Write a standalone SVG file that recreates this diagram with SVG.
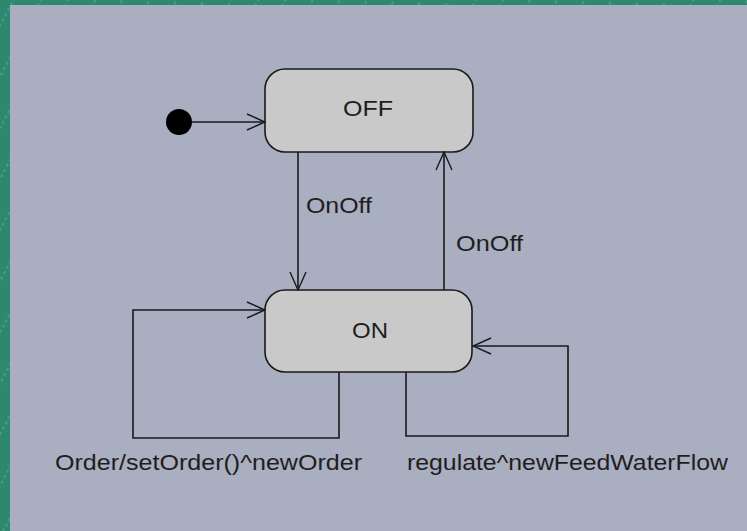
<svg xmlns="http://www.w3.org/2000/svg" width="747" height="531" viewBox="0 0 747 531">
  <defs>
    <pattern id="stripes" width="24" height="24" patternUnits="userSpaceOnUse" patternTransform="rotate(-62)">
      <rect width="24" height="24" fill="#2e8870"/>
      <line x1="0" y1="12" x2="24" y2="12" stroke="#5fae9a" stroke-width="1" stroke-dasharray="3,3"/>
    </pattern>
    <marker id="open" viewBox="0 0 20 20" refX="19" refY="10" markerWidth="20" markerHeight="20" markerUnits="userSpaceOnUse" orient="auto">
      <path d="M1,2 L19,10 L1,18" fill="none" stroke="#1a1a1a" stroke-width="1.4"/>
    </marker>
    <style>
      .state { fill: #c9c9c9; stroke: #1a1a1a; stroke-width: 1.6; }
      .conn { fill: none; stroke: #1a1a1a; stroke-width: 1.6; marker-end: url(#open); }
      .label { font-family: "Liberation Sans", Arial, sans-serif; font-size: 22px; fill: #1e1e1e; }
    </style>
  </defs>

  <rect x="0" y="0" width="747" height="531" fill="url(#stripes)"/>
  <rect x="10" y="5" width="737" height="526" fill="#a9aec0"/>

  <g id="initial">
    <circle cx="179" cy="122" r="13" fill="#000"/>
  </g>

  <g id="state-off">
    <rect class="state" x="265" y="69" width="208" height="83" rx="20" ry="20"/>
    <text class="label" x="368" y="116" text-anchor="middle" textLength="50" lengthAdjust="spacingAndGlyphs">OFF</text>
  </g>

  <g id="state-on">
    <rect class="state" x="265" y="290" width="207" height="82" rx="20" ry="20"/>
    <text class="label" x="370" y="338" text-anchor="middle" textLength="36" lengthAdjust="spacingAndGlyphs">ON</text>
  </g>

  <g id="connectors">
    <path class="conn" d="M192,122 L265,122"/>
    <path class="conn" d="M298,152 L298,290"/>
    <path class="conn" d="M444,290 L444,152"/>
    <path class="conn" d="M339,372 L339,438 L133,438 L133,310 L265,310"/>
    <path class="conn" d="M406,372 L406,436 L568,436 L568,346 L473,346"/>
  </g>

  <g id="labels">
    <text class="label" x="306" y="213" textLength="66" lengthAdjust="spacingAndGlyphs">OnOff</text>
    <text class="label" x="456" y="251" textLength="67" lengthAdjust="spacingAndGlyphs">OnOff</text>
    <text class="label" x="55" y="470" textLength="307" lengthAdjust="spacingAndGlyphs">Order/setOrder()^newOrder</text>
    <text class="label" x="407" y="470" textLength="321" lengthAdjust="spacingAndGlyphs">regulate^newFeedWaterFlow</text>
  </g>
</svg>
